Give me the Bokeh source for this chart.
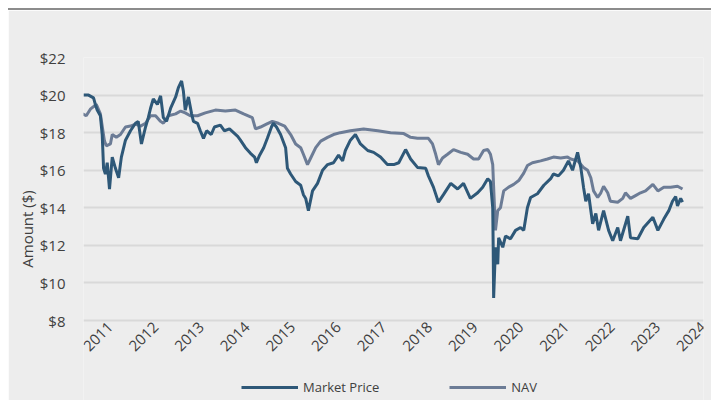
import math
from bokeh.plotting import figure
from bokeh.models import Range1d, FixedTicker, Legend, LegendItem
from bokeh.embed import file_html
from bokeh.resources import INLINE

# ---- data (decimal years, dollars) ----
mkt_x = [2010.41, 2010.52, 2010.63, 2010.67, 2010.71, 2010.78, 2010.82, 2010.85, 2010.89, 2010.93,
         2010.98, 2011.04, 2011.11, 2011.18, 2011.24, 2011.33, 2011.44, 2011.55, 2011.61, 2011.68,
         2011.77, 2011.83, 2011.88, 2011.94, 2012.03, 2012.10, 2012.16, 2012.23, 2012.32, 2012.43,
         2012.49, 2012.56, 2012.60, 2012.64, 2012.71, 2012.78, 2012.82, 2012.91, 2012.97, 2013.04,
         2013.11, 2013.21, 2013.28, 2013.41, 2013.50, 2013.61, 2013.70, 2013.79, 2013.85, 2013.96,
         2014.07, 2014.16, 2014.20, 2014.27, 2014.36, 2014.44, 2014.53, 2014.57, 2014.64, 2014.73,
         2014.84, 2014.88, 2014.95, 2015.06, 2015.17, 2015.23, 2015.28, 2015.34, 2015.43, 2015.54,
         2015.65, 2015.76, 2015.89, 2016.00, 2016.09, 2016.15, 2016.26, 2016.37, 2016.48, 2016.64,
         2016.77, 2016.92, 2017.07, 2017.21, 2017.32, 2017.47, 2017.58, 2017.73, 2017.91, 2017.97,
         2018.08, 2018.19, 2018.30, 2018.46, 2018.61, 2018.74, 2018.89, 2019.05, 2019.16, 2019.27,
         2019.33, 2019.38, 2019.39, 2019.40, 2019.44, 2019.49, 2019.51, 2019.60, 2019.66, 2019.77,
         2019.88, 2019.99, 2020.06, 2020.14, 2020.21, 2020.36, 2020.50, 2020.65, 2020.71, 2020.82,
         2020.93, 2021.04, 2021.13, 2021.24, 2021.31, 2021.37, 2021.42, 2021.48, 2021.57, 2021.64,
         2021.70, 2021.81, 2021.92, 2022.01, 2022.12, 2022.18, 2022.34, 2022.40, 2022.56, 2022.69,
         2022.89, 2023.00, 2023.13, 2023.24, 2023.32, 2023.39, 2023.43, 2023.50, 2023.54]
mkt_y = [20.0, 20.0, 19.85, 19.5, 19.2, 18.9, 17.9, 16.1, 15.8, 16.4,
         15.0, 16.7, 16.1, 15.6, 16.7, 17.6, 18.1, 18.5, 18.6, 17.4,
         18.3, 18.8, 19.3, 19.8, 19.5, 19.96, 18.8, 18.6, 19.3, 19.9,
         20.4, 20.75, 20.2, 19.2, 19.9, 19.0, 18.6, 18.5, 18.1, 17.7,
         18.1, 17.9, 18.3, 18.4, 18.1, 18.2, 18.0, 17.8, 17.6, 17.2,
         16.9, 16.7, 16.4, 16.8, 17.2, 17.7, 18.3, 18.5, 18.3, 17.9,
         17.2, 16.1, 15.8, 15.4, 15.2, 14.7, 14.5, 13.85, 14.9, 15.3,
         16.0, 16.3, 16.4, 16.8, 16.5, 17.05, 17.6, 17.9, 17.4, 17.05,
         16.95, 16.7, 16.3, 16.3, 16.4, 17.1, 16.6, 16.15, 16.1, 15.7,
         15.1, 14.3, 14.7, 15.3, 15.0, 15.3, 14.5, 14.8, 15.1, 15.55,
         15.4, 14.0, 11.9, 9.2, 11.9, 11.0, 12.4, 11.9, 12.5, 12.35,
         12.8, 12.95, 12.8, 14.0, 14.55, 14.75, 15.2, 15.55, 15.8, 15.7,
         16.0, 16.5, 16.0, 16.95, 16.15, 15.1, 14.35, 14.75, 13.15, 13.7,
         12.8, 13.85, 12.8, 12.25, 12.95, 12.25, 13.55, 12.4, 12.35, 12.95,
         13.5, 12.8, 13.4, 13.85, 14.35, 14.6, 14.1, 14.5, 14.3]

nav_x = [2010.39, 2010.47, 2010.56, 2010.69, 2010.78, 2010.87, 2010.91, 2011.00, 2011.04, 2011.13,
         2011.22, 2011.33, 2011.44, 2011.55, 2011.66, 2011.77, 2011.88, 2011.99, 2012.10, 2012.16,
         2012.27, 2012.43, 2012.54, 2012.64, 2012.75, 2012.91, 2013.08, 2013.30, 2013.52, 2013.74,
         2013.92, 2014.11, 2014.18, 2014.29, 2014.42, 2014.55, 2014.68, 2014.82, 2014.95, 2015.06,
         2015.17, 2015.23, 2015.32, 2015.39, 2015.50, 2015.61, 2015.76, 2015.89, 2016.04, 2016.26,
         2016.55, 2016.86, 2017.14, 2017.43, 2017.58, 2017.73, 2017.97, 2018.06, 2018.13, 2018.19,
         2018.28, 2018.39, 2018.52, 2018.68, 2018.83, 2018.96, 2019.07, 2019.18, 2019.27, 2019.33,
         2019.38, 2019.40, 2019.44, 2019.49, 2019.55, 2019.62, 2019.73, 2019.84, 2019.95, 2020.06,
         2020.14, 2020.25, 2020.43, 2020.58, 2020.71, 2020.87, 2021.02, 2021.09, 2021.24, 2021.37,
         2021.46, 2021.53, 2021.59, 2021.68, 2021.75, 2021.81, 2021.90, 2021.96, 2022.12, 2022.23,
         2022.29, 2022.40, 2022.51, 2022.62, 2022.73, 2022.89, 2023.00, 2023.13, 2023.28, 2023.43,
         2023.54]
nav_y = [19.0, 18.9, 19.25, 19.5, 19.0, 17.55, 17.3, 17.4, 17.9, 17.75,
         17.9, 18.3, 18.35, 18.45, 18.35, 18.5, 18.9, 18.9, 18.6, 18.5,
         18.9, 19.0, 19.15, 19.05, 18.9, 18.9, 19.05, 19.2, 19.15, 19.2,
         19.0, 18.8, 18.2, 18.3, 18.45, 18.6, 18.5, 18.35, 17.9, 17.4,
         17.2, 16.85, 16.3, 16.65, 17.2, 17.55, 17.75, 17.9, 18.0, 18.1,
         18.2, 18.1, 18.0, 17.95, 17.75, 17.7, 17.7, 17.4, 16.85, 16.3,
         16.65, 16.85, 17.1, 16.95, 16.85, 16.6, 16.6, 17.05, 17.1, 16.85,
         16.3, 15.1, 12.8, 13.85, 14.0, 14.9, 15.1, 15.25, 15.45, 15.85,
         16.25, 16.4, 16.5, 16.6, 16.7, 16.65, 16.7, 16.6, 16.5, 16.15,
         16.0, 15.6, 14.9, 14.55, 14.8, 15.15, 14.8, 14.35, 14.3, 14.5,
         14.8, 14.5, 14.65, 14.8, 14.9, 15.25, 14.9, 15.1, 15.1, 15.15,
         15.0]

years = list(range(2011, 2025))
y_ticks = [8, 10, 12, 14, 16, 18, 20, 22]

MKT_COLOR = "#2E5878"
NAV_COLOR = "#6C7C96"
BG = "#EDEDED"
TXT = "#404040"
FONT = "Open Sans"

p = figure(frame_width=620, frame_height=343,
           output_backend="svg", toolbar_location=None,
           x_range=Range1d(2010.41, 2024.0), y_range=Range1d(3.745, 22),
           min_border_left=75, min_border_right=8, min_border_top=47, min_border_bottom=0)
p.background_fill_color = BG
p.border_fill_color = BG
p.outline_line_color = None
p.styles = {"margin-left": "8px", "margin-top": "8px", "border-top": "2px solid #8C8C8C"}

nav_r = p.line(nav_x, nav_y, line_color=NAV_COLOR, line_width=3)
mkt_r = p.line(mkt_x, mkt_y, line_color=MKT_COLOR, line_width=3)

# axes
p.xaxis.fixed_location = 8
p.xaxis.ticker = FixedTicker(ticks=years)
p.xaxis.major_label_overrides = {y: str(y) for y in years}
p.xaxis.major_label_orientation = math.pi / 4
p.xaxis.axis_line_color = None
p.xaxis.major_tick_line_color = None
p.xaxis.minor_tick_line_color = None
p.xaxis.major_label_standoff = -2
p.xaxis.major_label_text_font = FONT
p.xaxis.major_label_text_font_size = "15px"
p.xaxis.major_label_text_color = TXT

p.yaxis.ticker = FixedTicker(ticks=y_ticks)
p.yaxis.major_label_overrides = {v: "$" + str(v) for v in y_ticks}
p.yaxis.axis_line_color = None
p.yaxis.major_tick_line_color = None
p.yaxis.minor_tick_line_color = None
p.yaxis.major_label_standoff = 12
p.yaxis.major_label_text_font = FONT
p.yaxis.major_label_text_font_size = "15px"
p.yaxis.major_label_text_color = TXT
p.yaxis.axis_label = "Amount ($)"
p.yaxis.axis_label_text_font = FONT
p.yaxis.axis_label_text_font_size = "15px"
p.yaxis.axis_label_text_font_style = "normal"
p.yaxis.axis_label_text_color = TXT
p.yaxis.axis_label_standoff = 0

p.xgrid.grid_line_color = None
p.ygrid.grid_line_color = "#D9D9D9"
p.ygrid.grid_line_width = 2

legend = Legend(items=[LegendItem(label="Market Price", renderers=[mkt_r]),
                       LegendItem(label="NAV", renderers=[nav_r])],
                location=(158, 4), orientation="horizontal",
                background_fill_alpha=0, border_line_color=None,
                padding=0, margin=0, spacing=70, label_standoff=5,
                glyph_width=57, glyph_height=16,
                label_text_font=FONT, label_text_font_size="13px",
                label_text_color=TXT)
p.add_layout(legend, "center")

open("out.html", "w").write(file_html(p, INLINE))
